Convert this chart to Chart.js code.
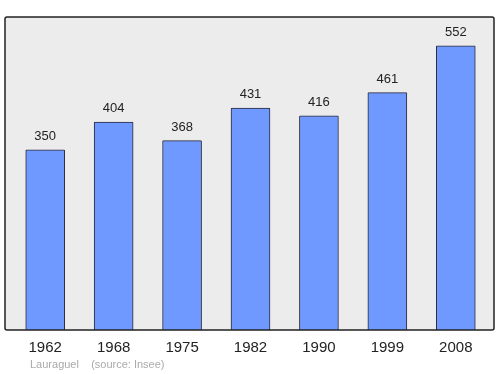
<!DOCTYPE html>
<html>
<head>
<meta charset="utf-8">
<script src="https://cdn.jsdelivr.net/npm/chart.js@4.4.1/dist/chart.umd.min.js"></script>
<style>
  html, body { margin: 0; padding: 0; background: #fff; }
  #wrap { width: 500px; height: 374px; position: relative; }
</style>
</head>
<body>
<div id="wrap"><canvas id="chart"></canvas></div>
<script>
// Population by census year
const years = ['1962', '1968', '1975', '1982', '1990', '1999', '2008'];
const population = [350, 404, 368, 431, 416, 461, 552];
const sourceText = 'Lauraguel    (source: Insee)';

const FONT = "'Liberation Sans', Arial, sans-serif";

// grey framed background, a bit wider than the category band
const frameBox = {
  id: 'frameBox',
  beforeDraw(chart) {
    const { ctx, chartArea: a } = chart;
    const left = a.left - 6, right = a.right + 4;
    ctx.save();
    ctx.fillStyle = '#ececec';
    ctx.fillRect(left, a.top, right - left, a.bottom - a.top);
    ctx.restore();
  },
  afterDatasetsDraw(chart) {
    const { ctx, chartArea: a } = chart;
    const left = a.left - 6, right = a.right + 4;
    ctx.save();
    ctx.strokeStyle = '#222';
    ctx.lineWidth = 1.5;
    ctx.beginPath();
    ctx.roundRect(left, a.top, right - left, a.bottom - a.top, 2);
    ctx.stroke();

    // value labels above bars
    const meta = chart.getDatasetMeta(0);
    ctx.fillStyle = '#222';
    ctx.font = '13px ' + FONT;
    ctx.textAlign = 'center';
    ctx.textBaseline = 'alphabetic';
    meta.data.forEach((bar, i) => {
      ctx.fillText(String(population[i]), bar.x, bar.y - 10);
    });

    // source line
    ctx.fillStyle = '#aaaaaa';
    ctx.font = '11px ' + FONT;
    ctx.textAlign = 'left';
    ctx.fillText(sourceText, 30, 368);
    ctx.restore();
  }
};

new Chart(document.getElementById('chart'), {
  type: 'bar',
  data: {
    labels: years,
    datasets: [{
      data: population,
      backgroundColor: '#7099ff',
      borderColor: '#2a2a3a',
      borderWidth: 1,
      borderSkipped: 'bottom',
      borderRadius: 1,
      barThickness: 39
    }]
  },
  options: {
    responsive: true,
    maintainAspectRatio: false,
    animation: false,
    layout: { padding: { left: 11, right: 10, top: 17, bottom: 8 } },
    plugins: {
      legend: { display: false },
      tooltip: { enabled: false }
    },
    scales: {
      x: {
        grid: { display: false, drawTicks: false },
        border: { display: false },
        ticks: {
          color: '#222',
          font: { size: 15, family: FONT },
          padding: 9,
          maxRotation: 0
        }
      },
      y: {
        display: false,
        min: 0,
        max: 608
      }
    }
  },
  plugins: [frameBox]
});
</script>
</body>
</html>
